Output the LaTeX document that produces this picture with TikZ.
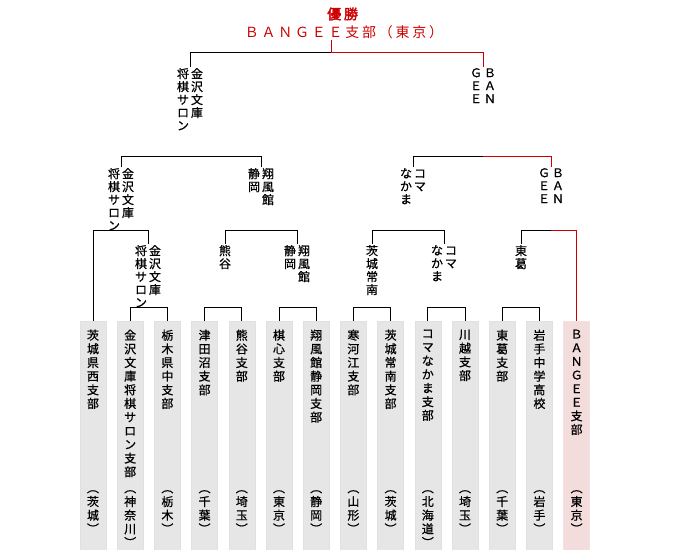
\documentclass[tikz,border=0pt]{standalone}
\usepackage{fontspec}
\setmainfont{Noto Sans CJK JP}[FakeBold=0.8]
\newfontfamily\titlefont{Noto Sans CJK JP}[LetterSpace=20, AutoFakeBold=2.5]
\usetikzlibrary{positioning, calc}
\definecolor{winred}{HTML}{CC0000}
\definecolor{boxgray}{HTML}{E6E6E6}
\definecolor{boxpink}{HTML}{F3DCDC}

\begin{document}
\begin{tikzpicture}[
  x=1bp, y=-1bp,
  line/.style={line width=1bp},
  win/.style={line, draw=winred},
  team/.style={anchor=north, fill=boxgray, draw=black!12, line width=0.6bp,
               minimum width=26bp, minimum height=230bp, inner sep=0pt},
  champteam/.style={team, fill=boxpink, draw=winred!12},
  tate/.style={anchor=north, align=center, inner sep=0pt, font=\fontsize{12}{13.7}\selectfont},
  lbl/.style={anchor=north, align=left, inner sep=1bp, font=\fontsize{12}{13}\selectfont},
  title/.style={align=center, inner sep=1bp, text=winred, font=\titlefont\fontsize{14}{18}\selectfont},
]
\useasboundingbox (0,0) rectangle (680,550);

% bracket levels
\coordinate (r1) at (0,307);
\coordinate (r2) at (0,231);
\coordinate (r3) at (0,157);
\coordinate (champ) at (331,53);

% ================= title =================
\node[title] (title) at (344,23) {\textbf{優勝}\\ＢＡＮＧＥＥ支部（東京）};

% ================= teams =================
\node[team] (b1) at (93,321) {};
\node[team, right=10.6bp of b1] (b2) {};
\node[team, right=10.6bp of b2] (b3) {};
\node[team, right=10.6bp of b3] (b4) {};
\node[team, right=10.6bp of b4] (b5) {};
\node[team, right=10.6bp of b5] (b6) {};
\node[team, right=10.6bp of b6] (b7) {};
\node[team, right=10.6bp of b7] (b8) {};
\node[team, right=10.6bp of b8] (b9) {};
\node[team, right=10.6bp of b9] (b10) {};
\node[team, right=10.6bp of b10] (b11) {};
\node[team, right=10.6bp of b11] (b12) {};
\node[team, right=10.6bp of b12] (b13) {};
\node[champteam, right=10.6bp of b13] (b14) {};

\node[tate] (t1) at ([yshift=-8.5bp]b1.north) {茨\\城\\県\\西\\支\\部};
\node[tate] (t2) at ([yshift=-8.5bp]b2.north) {金\\沢\\文\\庫\\将\\棋\\サ\\ロ\\ン\\支\\部};
\node[tate] (t3) at ([yshift=-8.5bp]b3.north) {栃\\木\\県\\中\\支\\部};
\node[tate] (t4) at ([yshift=-8.5bp]b4.north) {津\\田\\沼\\支\\部};
\node[tate] (t5) at ([yshift=-8.5bp]b5.north) {熊\\谷\\支\\部};
\node[tate] (t6) at ([yshift=-8.5bp]b6.north) {棋\\心\\支\\部};
\node[tate] (t7) at ([yshift=-8.5bp]b7.north) {翔\\風\\館\\静\\岡\\支\\部};
\node[tate] (t8) at ([yshift=-8.5bp]b8.north) {寒\\河\\江\\支\\部};
\node[tate] (t9) at ([yshift=-8.5bp]b9.north) {茨\\城\\常\\南\\支\\部};
\node[tate] (t10) at ([yshift=-8.5bp]b10.north) {コ\\マ\\な\\か\\ま\\支\\部};
\node[tate] (t11) at ([yshift=-8.5bp]b11.north) {川\\越\\支\\部};
\node[tate] (t12) at ([yshift=-8.5bp]b12.north) {東\\葛\\支\\部};
\node[tate] (t13) at ([yshift=-8.5bp]b13.north) {岩\\手\\中\\学\\高\\校};
\node[tate] (t14) at ([yshift=-8.5bp]b14.north) {Ｂ\\Ａ\\Ｎ\\Ｇ\\Ｅ\\Ｅ\\支\\部};

\node[tate] (p1) at ([yshift=-169bp]b1.north) {︵\\茨\\城\\︶};
\node[tate] (p2) at ([yshift=-169bp]b2.north) {︵\\神\\奈\\川\\︶};
\node[tate] (p3) at ([yshift=-169bp]b3.north) {︵\\栃\\木\\︶};
\node[tate] (p4) at ([yshift=-169bp]b4.north) {︵\\千\\葉\\︶};
\node[tate] (p5) at ([yshift=-169bp]b5.north) {︵\\埼\\玉\\︶};
\node[tate] (p6) at ([yshift=-169bp]b6.north) {︵\\東\\京\\︶};
\node[tate] (p7) at ([yshift=-169bp]b7.north) {︵\\静\\岡\\︶};
\node[tate] (p8) at ([yshift=-169bp]b8.north) {︵\\山\\形\\︶};
\node[tate] (p9) at ([yshift=-169bp]b9.north) {︵\\茨\\城\\︶};
\node[tate] (p10) at ([yshift=-169bp]b10.north) {︵\\北\\海\\道\\︶};
\node[tate] (p11) at ([yshift=-169bp]b11.north) {︵\\埼\\玉\\︶};
\node[tate] (p12) at ([yshift=-169bp]b12.north) {︵\\千\\葉\\︶};
\node[tate] (p13) at ([yshift=-169bp]b13.north) {︵\\岩\\手\\︶};
\node[tate] (p14) at ([yshift=-169bp]b14.north) {︵\\東\\京\\︶};

% ================= winners =================
% round 1
\node[lbl] (w1) at (148,244) {将\,金\\棋\,沢\\サ\,文\\ロ\,庫\\ン};
\node[lbl] (w2) at (225,244) {熊\\谷};
\node[lbl] (w3) at (297,244) {静\,翔\\岡\,風\\\phantom{岡}\,館};
\node[lbl] (w4) at (372,244) {茨\\城\\常\\南};
\node[lbl] (w5) at (444,244) {な\,コ\\か\,マ\\ま};
\node[lbl] (w6) at (521,244) {東\\葛};
% round 2
\node[lbl] (w7) at (121,167) {将\,金\\棋\,沢\\サ\,文\\ロ\,庫\\ン};
\node[lbl] (w8) at (261,167) {静\,翔\\岡\,風\\\phantom{岡}\,館};
\node[lbl] (w9) at (413,167) {な\,コ\\か\,マ\\ま};
\node[lbl] (w10) at (551,167) {Ｇ\,Ｂ\\Ｅ\,Ａ\\Ｅ\,Ｎ};
% semi-finals
\node[lbl] (w11) at (190,67) {将\,金\\棋\,沢\\サ\,文\\ロ\,庫\\ン};
\node[lbl] (w12) at (483,67) {Ｇ\,Ｂ\\Ｅ\,Ａ\\Ｅ\,Ｎ};

% ================= brackets =================
\draw[line] (b2.north) |- (b3.north |- r1) -- (b3.north);
\draw[line] (b4.north) |- (b5.north |- r1) -- (b5.north);
\draw[line] (b6.north) |- (b7.north |- r1) -- (b7.north);
\draw[line] (b8.north) |- (b9.north |- r1) -- (b9.north);
\draw[line] (b10.north) |- (b11.north |- r1) -- (b11.north);
\draw[line] (b12.north) |- (b13.north |- r1) -- (b13.north);

\draw[line] (b1.north) |- (w1.north |- r2) -- (w1.north);
\draw[line] (w2.north) |- (w3.north |- r2) -- (w3.north);
\draw[line] (w4.north) |- (w5.north |- r2) -- (w5.north);
\draw[line] (w6.north) |- (w10.north |- r2);
\draw[win] (w10.north |- r2) -| (b14.north);

\draw[line] (w7.north) |- (w8.north |- r3) -- (w8.north);
\draw[line] (w9.north) |- (w12.north |- r3);
\draw[win] (w12.north |- r3) -| (w10.north);

\draw[line] (w11.north) |- (champ);
\draw[win] (champ) -| (w12.north);
\draw[win] (title.south -| champ) -- (champ);

\end{tikzpicture}
\end{document}
